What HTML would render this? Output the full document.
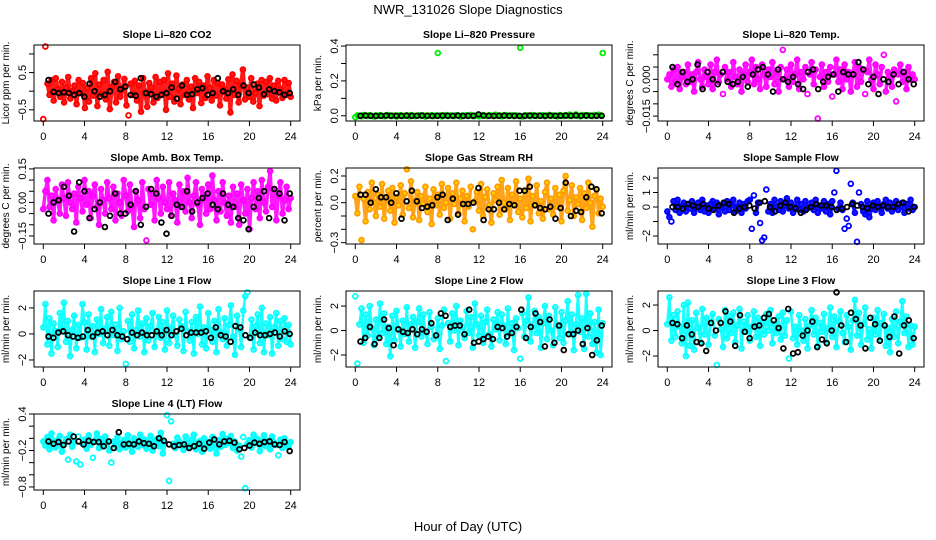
<!DOCTYPE html>
<html><head><meta charset="utf-8"><style>
html,body{margin:0;padding:0;background:#fff;}
svg{display:block;font-family:"Liberation Sans",sans-serif;}
</style></head><body>
<svg id="chart" width="936" height="540" viewBox="0 0 936 540">
<text x="468" y="14" text-anchor="middle" font-size="13">NWR_131026  Slope Diagnostics</text>
<text x="468" y="531" text-anchor="middle" font-size="13">Hour of Day (UTC)</text>
</svg>
<script>
const co2Color = "-75 120 20 -10 30 -25 35 5 -15 25 -30 10 38 -20 0 15 -35 30 -5 22 -45 8 -28 35 -12 48 -40 18 -8 30 -22 52 -48 12 25 -30 40 -15 5 33 -38 -65 20 -10 28 -25 15 -55 35 -5 -42 22 10 -30 38 -18 25 -8 30 -50 48 -15 20 -28 42 5 -35 18 -10 30 -22 12 -45 35 -5 25 -32 15 -18 40 8 -25 30 -12 22 -38 18 5 -20 32 -57 45 -10 28 -30 15 58 -22 10 -15 35 -28 -5 20 -40 30 -12 25 -8 35 -20 15 -25 28 5 -18 30 -10 22 -15";
const co2Black = "30 -2 -5 -3 -5 -10 -5 -15 20 0 -15 -10 0 25 5 12 -10 -12 35 -5 -8 -15 -10 -5 10 -20 15 -10 -8 5 8 -10 -5 35 0 -5 5 -10 15 -5 18 10 -8 5 0 -3 -10 -5";
const presColor = "-8 2 0 -3 4 1 -2 3 0 -4 2 -1 3 0 -3 1 4 -2 0 2 -4 1 3 -1 0 2 -3 4 1 -2 0 3 -1 2 -4 1 0 3 -2 1 360 2 -3 0 4 -1 2 0 -2 3 1 -4 2 0 3 -1 5 -2 0 2 -3 1 4 0 -2 3 1 -1 6 0 2 -3 1 4 -1 0 3 -2 2 0 390 -4 1 3 0 -2 4 1 -1 2 0 3 -2 1 5 -1 2 0 -3 4 1 -2 3 0 6 -1 2 8 0 -3 2 4 -1 3 0 -2 5 1 6 2 360";
const presBlack = "0 1 0 -1 0 1 0 0 -1 1 0 0 1 0 -1 0 1 0 0 1 -1 0 0 8 1 0 -1 0 1 0 0 -1 0 1 0 0 -1 1 0 0 1 0 2 0 1 0 0 0";
const tempColor = "0 2 -3 4 -1 5 -4 1 3 -2 6 -1 2 -5 3 7 0 -3 4 1 -2 6 -4 3 8 -1 2 -6 5 0 3 -3 7 1 -2 4 -5 2 6 -1 3 8 -2 5 0 -4 6 2 -3 4 1 7 -2 3 -5 5 12 0 4 -3 6 -1 2 8 -4 3 0 5 -6 2 7 -2 4 -16 1 6 -3 3 -1 5 -7 2 8 -1 4 -4 6 0 3 -5 2 7 -3 5 -1 4 -6 3 8 0 -4 6 2 -2 5 10 -5 3 1 -3 4 -9 2 6 -1 3 -4 5 0 2 0";
const tempBlack = "5 -2 3 -1 0 6 -4 3 0 -2 3 -1 -2 -1 1 -3 2 4 5 2 -5 4 0 -1 1 -2 -4 3 4 -4 -1 1 2 -5 3 2 2 7 4 -2 1 -6 0 -1 2 -2 3 0 -2";
const ambColor = "-3 5 10 -2 3 -8 6 1 -5 8 2 -6 9 0 -3 4 -9 7 2 -4 10 -1 5 -7 3 8 -2 -10 6 1 -5 9 2 -3 7 -8 4 0 -6 10 3 -4 8 -2 -11 5 1 -7 9 -3 -17 6 -1 4 -8 10 2 -5 7 0 -3 9 -6 4 1 -9 8 -2 5 -4 11 0 -7 3 9 -1 -10 6 2 -5 8 -3 12 1 -8 5 -4 9 0 -6 3 -9 7 -2 4 -10 8 1 -5 6 -12 2 9 -3 5 -7 10 0 -4 7 14 -2 6 -8 3 9 -5 1 7 -3 2";
const ambBlack = "-5 0 1 7 3 -13 9 5 -7 -3 0 -11 -6 4 -5 -5 -1 5 -10 -2 6 4 -9 -14 -6 -1 -2 5 -4 0 2 4 -1 -3 4 -1 -2 -7 -8 -12 -2 2 5 -7 6 4 -8 4";
const rhColor = "5 -8 12 -28 3 -14 8 -5 15 0 -10 6 -3 14 -12 2 9 -6 11 -15 4 -2 13 -9 7 25 -4 16 -11 1 8 -13 5 -1 12 -7 3 -16 10 -2 6 -9 14 -4 0 11 -12 7 -1 15 -8 3 9 -14 5 -3 12 -20 1 8 -6 14 -10 4 10 -2 -15 7 2 12 -9 17 0 -5 11 -13 6 -1 16 -7 3 -11 9 -4 18 -14 5 -2 13 -8 1 -12 8 15 -5 3 -9 11 -3 6 -14 9 20 -6 2 13 -10 4 -1 11 -13 7 -4 15 0 -18 5 10 -8 3 -3";
const rhBlack = "6 6 0 10 4 4 0 7 -12 1 9 1 -4 -3 -2 4 6 -13 3 -9 -1 -1 0 11 -13 -5 -5 0 -5 -1 -2 9 9 12 -2 -4 -5 -3 -12 -4 15 -10 -6 -7 4 12 10 -8";
const sampColor = "-3 -7 -10 4 -2 5 -4 1 3 -3 2 -1 4 -4 0 3 -2 5 -3 1 -4 2 4 -1 3 -5 0 2 -3 4 -2 1 5 -3 0 3 -4 2 -1 4 5 -15 8 -4 3 -11 -23 -21 12 -3 2 -4 5 0 -2 4 -3 1 6 -1 3 -4 0 5 -2 2 -3 4 -1 0 3 -2 5 -4 1 -1 4 -3 2 -5 4 10 25 -1 3 -2 -15 -8 -13 16 3 -4 -24 10 2 -3 -5 4 -7 -1 3 -2 4 0 -4 2 5 -1 3 -3 1 4 -2 0 3 -4 2 -1 5 -2 0";
const sampBlack = "0 0 -1 2 1 0 2 -1 -2 1 3 2 -4 -1 0 1 -1 3 4 0 -3 1 3 0 -1 -4 -2 0 2 1 1 0 -2 -1 0 2 1 0 -1 1 0 1 0 0 2 3 -3 0";
const l1Color = "5 23 -8 12 -15 8 2 -10 16 4 24 -6 10 -17 3 14 -11 7 -3 23 9 -12 15 -2 6 -14 11 0 19 -7 4 13 -9 17 -1 7 -13 20 -4 2 -23 10 -6 15 -11 3 18 -2 8 -14 12 -5 6 16 -10 1 13 -3 9 -12 18 -7 4 14 -1 -9 11 6 -13 17 2 -5 9 -15 13 0 21 -8 5 -11 16 3 -6 10 -14 19 1 -4 12 -9 7 22 -2 -16 14 4 -10 18 29 32 -3 11 -12 6 15 -7 20 -14 8 -1 13 -15 5 16 -9 10 -4 12 -6 7 -8";
const l1Black = "-2 -3 1 2 -1 -2 -3 -2 3 -2 1 2 -1 3 -1 -2 -4 1 -1 1 -1 -1 2 -1 3 -1 2 4 -1 1 1 1 2 -3 5 -1 -2 -6 6 5 -1 -3 1 -1 -1 0 1 -2 2 0";
const l2Color = "28 -27 5 18 -10 13 -4 20 2 -12 9 -6 22 -2 14 -11 3 -21 12 -8 16 1 -13 8 -3 19 -9 5 11 -14 7 18 -5 13 -1 -11 15 3 -7 -4 10 -15 4 17 -25 6 -9 14 0 20 -12 8 3 -6 16 -2 11 -14 22 5 -4 12 -10 7 17 -3 -13 9 1 15 -8 13 4 -11 18 -1 6 -16 10 2 -23 14 -5 8 27 -9 3 16 -2 11 -14 6 20 -7 12 0 -12 19 4 -6 15 -10 8 24 -3 13 -16 5 29 -1 10 -15 30 -5 14 -11 7 -18 17 -20 6";
const l2Black = "-9 -6 3 -11 -6 9 2 -12 1 -1 -2 1 -3 1 -1 6 -4 14 12 3 4 4 -3 17 -10 -9 -7 -5 -7 3 2 -5 -2 3 17 -6 3 14 7 -13 9 -10 4 -16 -3 -3 0 -11 2 -20 -8 4";
const l3Color = "5 26 -8 12 -5 15 3 -10 20 -20 22 -12 8 -15 14 2 -9 17 -3 10 -11 6 13 -4 -27 9 1 -13 16 -6 11 -2 14 -9 4 17 -14 7 -1 12 -8 3 15 -5 10 -12 6 -3 13 0 16 -10 5 -2 11 -7 14 -4 8 -22 15 -6 3 -11 12 0 -8 9 -14 4 16 -3 10 -12 6 -1 13 -9 2 18 -5 11 -13 7 15 -2 -9 12 3 -15 8 24 -4 14 -11 5 18 -7 1 -14 10 -3 16 -8 6 13 -12 2 -17 9 -5 15 -10 7 23 -2 11 -13 4 -11 3";
const l3Black = "6 5 -6 4 -3 -9 -10 -16 6 0 6 15 7 -12 12 -1 -6 3 4 10 13 8 2 -14 17 -18 -17 -4 0 7 -13 -7 -10 0 30 4 -9 14 9 4 -14 10 5 -8 4 -5 11 -18 4 8 -6";
const l4Color = "-5 -12 2 -18 8 -8 -15 -3 4 -22 -10 -1 -35 6 -14 -6 -38 3 -43 -9 -2 -17 5 -11 -32 -4 8 -16 -1 -13 3 -7 -20 -40 -5 -12 2 -18 -8 -3 -15 5 -10 -22 0 -6 -14 6 -11 -2 -17 -8 4 -20 -4 -1 -13 9 -25 -7 38 -70 28 -9 -16 1 -5 -12 -19 3 -8 -14 -2 6 -18 -10 -4 -22 0 -12 -6 -17 2 -9 -25 -3 -14 7 -11 -1 -8 4 -16 -5 -20 -12 -30 2 -82 -9 -3 -15 6 -8 -1 -21 -10 5 -13 -4 -18 3 -7 -11 -28 -2 -16 0 -9 -14 -6";
const l4Black = "-5 -9 -6 -11 -5 3 -5 -10 -4 -6 -6 -13 -5 -16 10 -10 -9 -10 -5 -8 -9 -13 0 -4 -10 -13 -11 -10 -16 -13 -9 -17 -7 -2 -10 -5 -4 -7 -18 -16 -12 -7 -9 -6 -5 -10 -11 -6 -21";
const xTicks = [0,4,8,12,16,20,24];

const NS = "http://www.w3.org/2000/svg";
const svg = document.getElementById('chart');
function mk(tag, attrs){ const e=document.createElementNS(NS,tag); for(const k in attrs) e.setAttribute(k,attrs[k]); return e; }
function parse(s, unit){ return s.trim().split(/\s+/).map(v=>parseFloat(v)*unit); }
function median(a){ const s=[...a].sort((x,y)=>x-y); return s[Math.floor(s.length/2)]; }

const panels = [
 {key:'co2',title:'Slope Li\u2013820 CO2',yl:'Licor ppm per min.',col:0,row:0,ymin:-0.8,ymax:1.24,unit:0.01,c:co2Color,b:co2Black,ticks:[-0.5,0,0.5,1],labs:['\u22120.5','','0.5',''],stroke:'#ff0000',fill:'none',bw:4},
 {key:'pressure',title:'Slope Li\u2013820 Pressure',yl:'kPa per min.',col:1,row:0,ymin:-0.03,ymax:0.406,unit:0.001,c:presColor,b:presBlack,ticks:[0,0.1,0.2,0.3,0.4],labs:['0.0','','0.2','','0.4'],stroke:'#00ee00',fill:'none',bw:4},
 {key:'temp',title:'Slope Li\u2013820 Temp.',yl:'degrees C per min.',col:2,row:0,ymin:-0.017,ymax:0.014,unit:0.001,c:tempColor,b:tempBlack,ticks:[-0.015,-0.01,-0.005,0,0.005,0.01],labs:['\u22120.015','','','0.000','',''],stroke:'#ff00ff',fill:'none',bw:3.5},
 {key:'amb',title:'Slope Amb. Box Temp.',yl:'degrees C per min.',col:0,row:1,ymin:-0.186,ymax:0.154,unit:0.01,c:ambColor,b:ambBlack,ticks:[-0.15,-0.1,-0.05,0,0.05,0.1,0.15],labs:['\u22120.15','','','0.00','','','0.15'],stroke:'#ff00ff',fill:'none',bw:3.5},
 {key:'rh',title:'Slope Gas Stream RH',yl:'percent per min.',col:1,row:1,ymin:-0.31,ymax:0.26,unit:0.01,c:rhColor,b:rhBlack,ticks:[-0.3,-0.2,-0.1,0,0.1,0.2],labs:['\u22120.3','','','0.0','','0.2'],stroke:'#ff9a00',fill:'#ffd000',bw:3.5},
 {key:'sample',title:'Slope Sample Flow',yl:'ml/min per min.',col:2,row:1,ymin:-2.55,ymax:2.69,unit:0.1,c:sampColor,b:sampBlack,ticks:[-2,-1,0,1,2],labs:['\u22122','','0','1','2'],stroke:'#0000ff',fill:'none',bw:4},
 {key:'line1',title:'Slope Line 1 Flow',yl:'ml/min per min.',col:0,row:2,ymin:-2.54,ymax:3.3,unit:0.1,c:l1Color,b:l1Black,ticks:[-2,0,2],labs:['\u22122','0','2'],stroke:'#00ffff',fill:'none',bw:2.5},
 {key:'line2',title:'Slope Line 2 Flow',yl:'ml/min per min.',col:1,row:2,ymin:-2.98,ymax:3.23,unit:0.1,c:l2Color,b:l2Black,ticks:[-2,0,2],labs:['\u22122','0','2'],stroke:'#00ffff',fill:'none',bw:2.5},
 {key:'line3',title:'Slope Line 3 Flow',yl:'ml/min per min.',col:2,row:2,ymin:-2.86,ymax:3.1,unit:0.1,c:l3Color,b:l3Black,ticks:[-2,0,2],labs:['\u22122','0','2'],stroke:'#00ffff',fill:'none',bw:2.5},
 {key:'line4',title:'Slope Line 4 (LT) Flow',yl:'ml/min per min.',col:0,row:3,ymin:-0.85,ymax:0.4,unit:0.01,c:l4Color,b:l4Black,ticks:[-0.8,-0.6,-0.4,-0.2,0,0.2,0.4],labs:['\u22120.8','','','\u22120.2','','','0.4'],stroke:'#00ffff',fill:'none',bw:4}
];

panels.forEach(p=>{
  const L = 34 + p.col*312, T = 45 + p.row*123, W = 266, H = 76;
  const xs = h => L + 9.3 + h*(247.4/24);
  const ys = v => T + H - (v - p.ymin)/(p.ymax - p.ymin)*H;
  const g = mk('g',{});
  
  
  svg.appendChild(g);

  const t = mk('text',{x:L+W/2,y:T-7,'text-anchor':'middle','font-size':'10.5','font-weight':'bold'});
  
  
  t.textContent = p.title; g.appendChild(t);

  const yl = mk('text',{x:0,y:0,'text-anchor':'middle','font-size':'10',transform:`translate(${L-25},${T+H/2}) rotate(-90)`});
  
  
  yl.textContent = p.yl; g.appendChild(yl);

  const cv = parse(p.c, p.unit);
  const med = median(cv);
  const mad = median(cv.map(v=>Math.abs(v-med))) || 1e-9;
  const inBand = v => Math.abs(v-med) <= 2.6*mad;
  let d = '';
  cv.forEach((v,i)=>{
    const h = i*24/(cv.length-1);
    if(i>0 && inBand(v) && inBand(cv[i-1])){
      const h0 = (i-1)*24/(cv.length-1);
      d += `M${xs(h0).toFixed(1)},${ys(cv[i-1]).toFixed(1)}L${xs(h).toFixed(1)},${ys(v).toFixed(1)}`;
    }
  });
  const band = mk('path',{d:d,fill:'none',stroke:p.stroke,'stroke-width':p.bw,'stroke-linecap':'round','stroke-opacity':0.9});
  
  
  g.appendChild(band);
  cv.forEach((v,i)=>{
    const h = i*24/(cv.length-1);
    const c = mk('circle',{cx:xs(h).toFixed(1),cy:ys(v).toFixed(1),r:2.4,fill:p.fill,stroke:p.stroke,'stroke-width':1.8});
    
    
    g.appendChild(c);
  });
  const bv = parse(p.b, p.unit);
  bv.forEach((v,i)=>{
    const h = 0.5 + i*23.4/(bv.length-1);
    const c = mk('circle',{cx:xs(h).toFixed(1),cy:ys(v).toFixed(1),r:2.4,fill:'none',stroke:'#000','stroke-width':1.8});
    
    
    g.appendChild(c);
  });

  const box = mk('rect',{x:L,y:T,width:W,height:H,fill:'none',stroke:'#000','stroke-width':1});
  
  
  g.appendChild(box);

  const xa = mk('g',{});
  
  
  g.appendChild(xa);
  xa.appendChild(mk('line',{x1:xs(0),x2:xs(24),y1:T+H,y2:T+H,stroke:'#000'}));
  xTicks.forEach(v=>{
    xa.appendChild(mk('line',{x1:xs(v),x2:xs(v),y1:T+H,y2:T+H+5,stroke:'#000'}));
    const tx = mk('text',{x:xs(v),y:T+H+19,'text-anchor':'middle','font-size':'11'});
    
    
    tx.textContent = v; xa.appendChild(tx);
  });
  const ya = mk('g',{});
  
  
  g.appendChild(ya);
  ya.appendChild(mk('line',{x1:L,x2:L,y1:ys(p.ticks[0]),y2:ys(p.ticks[p.ticks.length-1]),stroke:'#000'}));
  p.ticks.forEach((v,i)=>{
    const y = ys(v);
    ya.appendChild(mk('line',{x1:L-5,x2:L,y1:y,y2:y,stroke:'#000'}));
    if(p.labs[i]){
      const tx = mk('text',{x:0,y:0,'text-anchor':'middle','font-size':'11',transform:`translate(${L-8},${y}) rotate(-90)`});
      
      
      tx.textContent = p.labs[i]; ya.appendChild(tx);
    }
  });
});
</script>
</body></html>
